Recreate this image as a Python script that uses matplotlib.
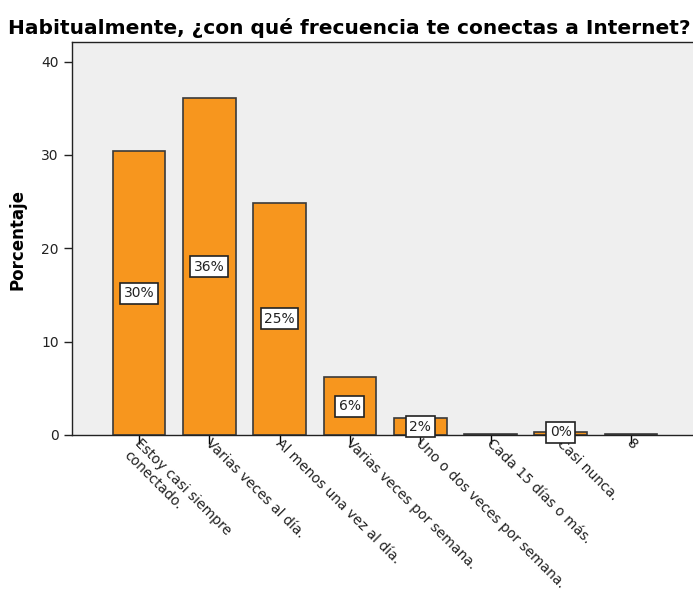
import numpy as np
import matplotlib
matplotlib.use('Agg')
import matplotlib.pyplot as plt
import matplotlib.transforms as mtransforms

# datos
categorias = ['Estoy casi siempre\nconectado.', 'Varias veces al día.',
              'Al menos una vez al día.', 'Varias veces por semana.',
              'Uno o dos veces por semana.', 'Cada 15 días o más.',
              'Casi nunca.', '8']
porcentajes = [30.4, 36.1, 24.9, 6.2, 1.8, 0.1, 0.3, 0.1]
etiquetas = ['30%', '36%', '25%', '6%', '2%', '', '0%', '']
yticks = [0, 10, 20, 30, 40]

fig = plt.figure(figsize=(6.93, 5.90), dpi=100)
ax = fig.add_axes([72 / 693, (590 - 435) / 590, 621 / 693, (435 - 42) / 590])
ax.set_facecolor('#efefef')

x = np.arange(len(categorias))
bars = ax.bar(x, porcentajes, width=0.75, color='#f7961e',
              edgecolor='#3a3a3a', linewidth=1.2, zorder=2)

for b, val, txt in zip(bars, porcentajes, etiquetas):
    if not txt:
        continue
    ax.text(b.get_x() + b.get_width() / 2, max(val / 2, 0.3), txt,
            ha='center', va='center', fontsize=10, color='#222222', zorder=3,
            bbox=dict(boxstyle='square,pad=0.25', fc='white', ec='#222222', lw=1.2))

ax.set_xlim(-0.953, 7.88)
ax.set_ylim(0, 42.1)
ax.set_yticks(yticks)
ax.set_xticks(x)
ax.set_xticklabels(categorias, rotation=-45, ha='left', va='top',
                   rotation_mode='anchor', fontsize=10, color='#222222')
ax.tick_params(axis='y', length=6, width=1, labelsize=10, colors='#222222')
ax.tick_params(axis='x', length=6.5, width=1, pad=-5.5)
desplaza = mtransforms.ScaledTranslation(3 / 100, 0, fig.dpi_scale_trans)
for lab in ax.get_xticklabels():
    lab.set_transform(lab.get_transform() + desplaza)
for s in ['left', 'top', 'bottom']:
    ax.spines[s].set_color('#222222')
    ax.spines[s].set_linewidth(1)
ax.spines['right'].set_visible(False)

fig.text(18 / 693, 1 - 240 / 590, 'Porcentaje', rotation=90, ha='center',
         va='center', fontsize=12, fontweight='bold')
fig.text(349 / 693, 1 - 28 / 590,
         'Habitualmente, ¿con qué frecuencia te conectas a Internet?',
         ha='center', va='center', fontsize=14.5, fontweight='semibold')

fig.savefig('out.png', dpi=100)
